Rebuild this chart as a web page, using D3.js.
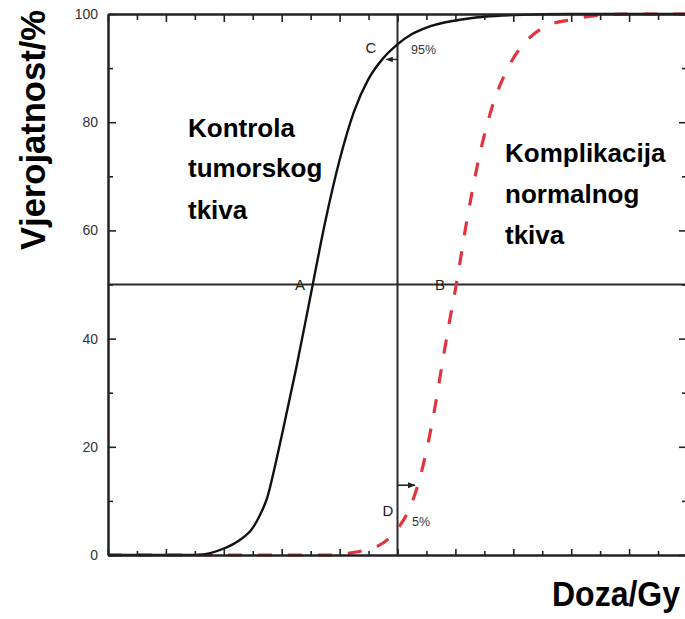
<!DOCTYPE html>
<html>
<head>
<meta charset="utf-8">
<script src="https://cdn.jsdelivr.net/npm/d3@7"></script>
<style>
  html, body { margin: 0; padding: 0; background: #fff; }
  svg { display: block; }
  text { font-family: "Liberation Sans", Arial, sans-serif; }
</style>
</head>
<body>
<svg id="chart" width="685" height="619"></svg>
<script>
// ---- data ----
const tumorDose = [0, 3.0, 3.5, 4.0, 4.5, 5.0, 5.25, 5.5, 5.75, 6.0, 6.5, 7.0, 7.5, 8.0, 8.5, 9.0, 9.5, 10.0, 10.5, 11.0, 12.0, 13.0, 14.0, 16.0, 20.0];
const tumorProb = [0, 0, 0.3, 1.2, 2.6, 5.0, 7.4, 10.6, 16, 22, 34.5, 48, 61.5, 73, 82, 88, 91.8, 94.4, 96.3, 97.5, 98.8, 99.5, 99.8, 100, 100];
const normalDose = [0, 8.0, 8.4, 8.9, 9.3, 9.75, 10.05, 10.35, 10.75, 11.05, 11.3, 11.55, 11.8, 12.03, 12.37, 12.79, 13.24, 13.83, 14.38, 15.08, 15.91, 17.05, 18, 20];
const normalProb = [0, 0, 0.4, 0.9, 1.6, 3.3, 5.2, 7.8, 13.8, 20.5, 27.5, 35.5, 43.3, 50, 61, 72.8, 82.3, 90.2, 94.6, 97.6, 98.9, 99.8, 100, 100];
const yMajorTicks = [0, 20, 40, 60, 80, 100];
const yMinorTicks = [10, 30, 50, 70, 90];
const xMajorTicks = [0, 2, 4, 6, 8, 10, 12, 14, 16, 18, 20];
const xMinorTicks = [1, 3, 5, 7, 9, 11, 13, 15, 17, 19];
const refProb = 50;     // horizontal reference line
const refDose = 10;     // vertical reference line
const pointLabels = ["A", "B", "C", "D"];
const pointDose = [6.63, 11.47, 9.08, 9.67];
const pointProb = [50, 50, 93.8, 8.3];
const pctLabels = ["95%", "5%"];
const pctDose = [10.47, 10.5];
const pctProb = [93.3, 6.1];
const leftLabel = ["Kontrola", "tumorskog", "tkiva"];
const rightLabel = ["Komplikacija", "normalnog", "tkiva"];
const yTitle = "Vjerojatnost/%";
const xTitle = "Doza/Gy";

// ---- scales ----
const svg = d3.select("#chart");
const x = d3.scaleLinear().domain([0, 20]).range([108, 687]);
const y = d3.scaleLinear().domain([0, 100]).range([555, 14]);

const axisColor = "#222";

function styleAxis(g) {
  g.selectAll("path.domain").attr("stroke", axisColor).attr("stroke-width", 2);
  g.selectAll(".tick line").attr("stroke", axisColor).attr("stroke-width", 1.6);
}

// reference lines
svg.append("line")
  .attr("x1", x(0)).attr("x2", x(20))
  .attr("y1", y(refProb)).attr("y2", y(refProb))
  .attr("stroke", "#2a2a2a").attr("stroke-width", 2);
svg.append("line")
  .attr("x1", x(refDose)).attr("x2", x(refDose))
  .attr("y1", y(0)).attr("y2", y(100))
  .attr("stroke", "#2a2a2a").attr("stroke-width", 2);

// curves
const line = d3.line().x(d => x(d[0])).y(d => y(d[1])).curve(d3.curveMonotoneX);
svg.append("path")
  .datum(normalDose.map((d, i) => [d, normalProb[i]]))
  .attr("d", line)
  .attr("fill", "none")
  .attr("stroke", "#e1343c")
  .attr("stroke-width", 3.2)
  .attr("stroke-dasharray", "14,16");
svg.append("path")
  .datum(tumorDose.map((d, i) => [d, tumorProb[i]]))
  .attr("d", line)
  .attr("fill", "none")
  .attr("stroke", "#111")
  .attr("stroke-width", 2.4);

// axes
const gl = svg.append("g").attr("transform", `translate(${x(0)},0)`)
  .call(d3.axisLeft(y).tickValues(yMajorTicks).tickSize(-8).tickSizeOuter(0).tickPadding(10).tickFormat(d3.format("d")));
styleAxis(gl);
gl.selectAll(".tick text").attr("font-size", 14).attr("fill", "#333")
  .attr("font-family", "'Liberation Sans', Arial, sans-serif");
const glm = svg.append("g").attr("transform", `translate(${x(0)},0)`)
  .call(d3.axisLeft(y).tickValues(yMinorTicks).tickSize(-5).tickSizeOuter(0).tickFormat(""));
styleAxis(glm);

const gr = svg.append("g").attr("transform", `translate(${x(20)},0)`)
  .call(d3.axisRight(y).tickValues(yMajorTicks).tickSize(-8).tickSizeOuter(0).tickFormat(""));
styleAxis(gr);
const grm = svg.append("g").attr("transform", `translate(${x(20)},0)`)
  .call(d3.axisRight(y).tickValues(yMinorTicks).tickSize(-5).tickSizeOuter(0).tickFormat(""));
styleAxis(grm);

const gb = svg.append("g").attr("transform", `translate(0,${y(0)})`)
  .call(d3.axisBottom(x).tickValues(xMajorTicks).tickSize(-6).tickSizeOuter(0).tickFormat(""));
styleAxis(gb);
const gbm = svg.append("g").attr("transform", `translate(0,${y(0)})`)
  .call(d3.axisBottom(x).tickValues(xMinorTicks).tickSize(-4).tickSizeOuter(0).tickFormat(""));
styleAxis(gbm);

const gt = svg.append("g").attr("transform", `translate(0,${y(100)})`)
  .call(d3.axisTop(x).tickValues(xMajorTicks).tickSize(-8).tickSizeOuter(0).tickFormat(""));
styleAxis(gt);
const gtm = svg.append("g").attr("transform", `translate(0,${y(100)})`)
  .call(d3.axisTop(x).tickValues(xMinorTicks).tickSize(-6).tickSizeOuter(0).tickFormat(""));
styleAxis(gtm);

// small arrows at C and D
const defs = svg.append("defs");
defs.append("marker").attr("id", "arr").attr("viewBox", "0 0 10 10")
  .attr("refX", 9).attr("refY", 5).attr("markerWidth", 5).attr("markerHeight", 5)
  .attr("orient", "auto")
  .append("path").attr("d", "M0,1 L10,5 L0,9 Z").attr("fill", "#222");
svg.append("line")
  .attr("x1", x(refDose)).attr("x2", x(10.6))
  .attr("y1", y(12.9)).attr("y2", y(12.9))
  .attr("stroke", "#222").attr("stroke-width", 1.6).attr("marker-end", "url(#arr)");
svg.append("line")
  .attr("x1", x(refDose)).attr("x2", x(9.62))
  .attr("y1", y(91.6)).attr("y2", y(91.6))
  .attr("stroke", "#222").attr("stroke-width", 1.4).attr("marker-end", "url(#arr)");

// point labels
svg.selectAll("text.pt").data(pointLabels).join("text").attr("class", "pt")
  .attr("x", (d, i) => x(pointDose[i])).attr("y", (d, i) => y(pointProb[i]))
  .attr("text-anchor", "middle").attr("dominant-baseline", "central")
  .attr("font-size", 15).attr("fill", "#222").text(d => d);
svg.selectAll("text.pct").data(pctLabels).join("text").attr("class", "pct")
  .attr("x", (d, i) => x(pctDose[i])).attr("y", (d, i) => y(pctProb[i]))
  .attr("text-anchor", "start").attr("dominant-baseline", "central")
  .attr("font-size", 12.5).attr("fill", "#333").text(d => d);

// region labels
const leftBase = [137, 177, 219];
svg.selectAll("text.ll").data(leftLabel).join("text").attr("class", "ll")
  .attr("x", 188).attr("y", (d, i) => leftBase[i])
  .attr("font-size", 26).attr("font-weight", "bold").attr("fill", "#000")
  .text(d => d);
const rightBase = [162, 203, 244];
svg.selectAll("text.rl").data(rightLabel).join("text").attr("class", "rl")
  .attr("x", 505).attr("y", (d, i) => rightBase[i])
  .attr("font-size", 26).attr("font-weight", "bold").attr("fill", "#000")
  .text(d => d);

// axis titles
svg.append("text")
  .attr("transform", "translate(45,250) rotate(-90)")
  .attr("text-anchor", "start")
  .attr("font-size", 35).attr("font-weight", "bold").attr("fill", "#000")
  .attr("textLength", 240).attr("lengthAdjust", "spacingAndGlyphs")
  .text(yTitle);
svg.append("text")
  .attr("transform", "translate(552,606) scale(1,1.08)")
  .attr("x", 0).attr("y", 0)
  .attr("font-size", 32).attr("font-weight", "bold").attr("fill", "#000")
  .text(xTitle);
</script>
</body>
</html>
